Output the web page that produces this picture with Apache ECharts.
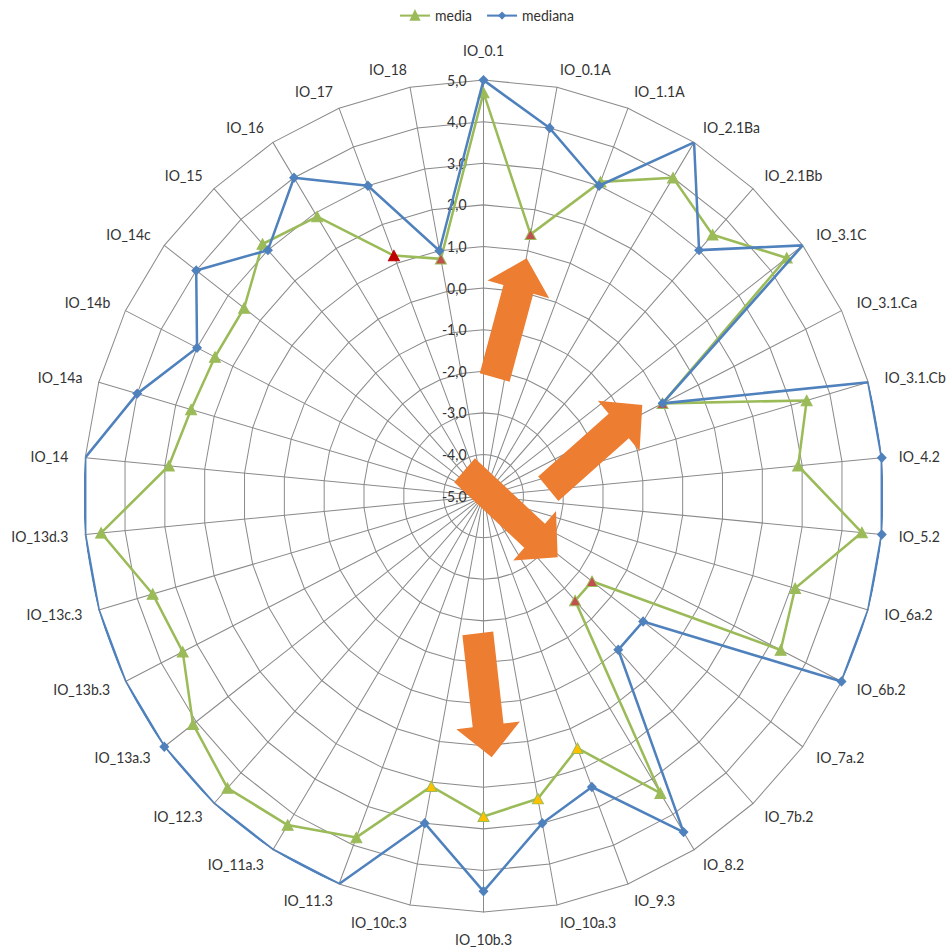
<!DOCTYPE html>
<html>
<head>
<meta charset="utf-8">
<script src="https://cdn.jsdelivr.net/npm/echarts@6/dist/echarts.min.js"></script>
<style>
  html, body { margin: 0; padding: 0; background: #ffffff; width: 947px; height: 949px; overflow: hidden; }
  #frame { width: 947px; height: 949px; overflow: hidden; position: relative; }
  /* the chart is drawn slightly taller than wide; names may run past the right edge */
  #chart { width: 1010px; height: 913px; transform: scaleY(1.04); transform-origin: 0 0; }
</style>
</head>
<body>
<div id="frame"><div id="chart"></div></div>
<script>
// Indicators, clockwise from the top
const categories = [
  'IO_0.1', 'IO_0.1A', 'IO_1.1A', 'IO_2.1Ba', 'IO_2.1Bb', 'IO_3.1C', 'IO_3.1.Ca', 'IO_3.1.Cb',
  'IO_4.2', 'IO_5.2', 'IO_6a.2', 'IO_6b.2', 'IO_7a.2', 'IO_7b.2', 'IO_8.2', 'IO_9.3',
  'IO_10a.3', 'IO_10b.3', 'IO_10c.3', 'IO_11.3', 'IO_11a.3', 'IO_12.3', 'IO_13a.3', 'IO_13b.3',
  'IO_13c.3', 'IO_13d.3', 'IO_14', 'IO_14a', 'IO_14b', 'IO_14c', 'IO_15', 'IO_16', 'IO_17', 'IO_18'
];

const mediaValues = [
  4.7, 1.4, 3.1, 4.0, 3.5, 4.5, 0.0, 3.4,
  2.9, 4.5, 3.1, 3.3, -1.6, -1.6, 3.4, 1.5,
  2.4, 2.7, 2.1, 3.8, 4.3, 4.5, 4.1, 3.4,
  3.6, 4.6, 2.9, 2.6, 2.5, 2.5, 3.2, 2.9, 1.2, 0.8
];

const medianaValues = [
  5, 4, 3, 5, 3, 5, 0, 5,
  5, 5, 5, 5, 0, 0, 4.5, 2.5,
  3, 4.5, 3, 5, 5, 5, 5, 5,
  5, 5, 5, 4, 3, 4, 3, 4, 3, 1
];

// Value scale of every spoke
const scaleMin = -5;
const scaleMax = 5;
const scaleSteps = 10;

// Highlighted "media" markers
const mediaMarkerFill = {
  'IO_0.1A': '#C0504D', 'IO_3.1.Ca': '#C0504D', 'IO_7a.2': '#C0504D',
  'IO_7b.2': '#C0504D', 'IO_18': '#C0504D',
  'IO_17': '#C00000',
  'IO_9.3': '#FFC000', 'IO_10a.3': '#FFC000', 'IO_10b.3': '#FFC000', 'IO_10c.3': '#FFC000'
};

const GREEN = '#9BBB59';
const BLUE = '#4F81BD';
const ORANGE = '#ED7D31';
const GRID = '#8a8a8a';
const TEXT = '#333333';
const FONT = 'Lato, "Open Sans", sans-serif';
const CX = 483.5, CY = 477, R = 400;

const fmt = v => Number(v).toFixed(1).replace('.', ',');

// Names on the vertical spokes sit a little further out
const nameGapOverride = { 'IO_0.1': 22, 'IO_10b.3': 19 };

// Radar indicators are laid out counter-clockwise, so list them in reverse after the first
const radarOrder = [categories[0]].concat(categories.slice(1).reverse());
const indicators = radarOrder.map((name, i) => {
  const ind = { name: name, min: scaleMin, max: scaleMax };
  if (nameGapOverride[name] != null) ind.nameGap = nameGapOverride[name];
  if (i === 0) {
    ind.axisLabel = {
      show: true, formatter: fmt, color: TEXT, fontSize: 14, fontFamily: FONT, margin: 17
    };
  }
  return ind;
});

// Points on the polar grid: [value, spoke index], closed back to the first spoke
function polarPoints(values, fills, fillBorder) {
  const pts = values.map((v, i) => {
    const item = { value: [v, i] };
    const fill = fills && fills[categories[i]];
    if (fill) {
      item.itemStyle = { color: fill, borderColor: fill === '#C00000' ? fill : fillBorder };
    }
    return item;
  });
  pts.push({ value: [values[0], categories.length], symbol: 'none' });
  return pts;
}

// Block arrows drawn over the grid
function blockArrow(tail, tip, shaftW, headW, headL) {
  const dx = tip[0] - tail[0], dy = tip[1] - tail[1];
  const len = Math.hypot(dx, dy);
  const ux = dx / len, uy = dy / len;
  const nx = -uy, ny = ux;
  const bx = tip[0] - ux * headL, by = tip[1] - uy * headL;
  const s = shaftW / 2, h = headW / 2;
  return [
    [tail[0] + nx * s, tail[1] + ny * s],
    [bx + nx * s, by + ny * s],
    [bx + nx * h, by + ny * h],
    [tip[0], tip[1]],
    [bx - nx * h, by - ny * h],
    [bx - nx * s, by - ny * s],
    [tail[0] - nx * s, tail[1] - ny * s]
  ];
}
const arrows = [
  [[494.7, 363.0], [526.7, 248.4]],
  [[548.3, 469.9], [642.3, 389.4]],
  [[464.5, 452.2], [557.7, 535.9]],
  [[477.8, 609.0], [491.7, 728.2]]
];

const chart = echarts.init(document.getElementById('chart'), null, { renderer: 'svg' });
chart.setOption({
  animation: false,
  backgroundColor: '#ffffff',
  textStyle: { fontFamily: FONT },
  legend: {
    data: ['media', 'mediana'],
    left: 394,
    top: 3,
    itemWidth: 30,
    itemHeight: 10,
    itemGap: 14,
    textStyle: { color: TEXT, fontSize: 14, fontFamily: FONT }
  },
  radar: {
    center: [CX, CY],
    radius: R,
    startAngle: 90,
    shape: 'polygon',
    splitNumber: scaleSteps,
    indicator: indicators,
    nameGap: 17,
    axisName: { color: TEXT, fontSize: 14, fontFamily: FONT },
    axisLine: { lineStyle: { color: GRID, width: 1 } },
    splitLine: { lineStyle: { color: GRID, width: 1 } },
    splitArea: { show: false },
    axisTick: { show: false },
    axisLabel: { show: false },
    z: 1
  },
  polar: { center: [CX, CY], radius: R },
  angleAxis: {
    type: 'value', min: 0, max: categories.length,
    startAngle: 90, clockwise: true, show: false
  },
  radiusAxis: { type: 'value', min: scaleMin, max: scaleMax, show: false },
  series: [
    {
      name: 'media',
      type: 'line',
      coordinateSystem: 'polar',
      data: polarPoints(mediaValues, mediaMarkerFill, GREEN),
      symbol: 'triangle',
      symbolSize: [11, 10],
      lineStyle: { color: GREEN, width: 2.5 },
      itemStyle: { color: GREEN, borderColor: GREEN, borderWidth: 1 },
      z: 3
    },
    {
      name: 'mediana',
      type: 'line',
      coordinateSystem: 'polar',
      data: polarPoints(medianaValues),
      symbol: 'diamond',
      symbolSize: [10, 10],
      lineStyle: { color: BLUE, width: 2.5 },
      itemStyle: { color: BLUE },
      z: 4
    }
  ],
  graphic: arrows.map(a => ({
    type: 'polygon',
    z: 100,
    shape: { points: blockArrow(a[0], a[1], 31, 64, 31) },
    style: { fill: ORANGE }
  }))
});
</script>
</body>
</html>
